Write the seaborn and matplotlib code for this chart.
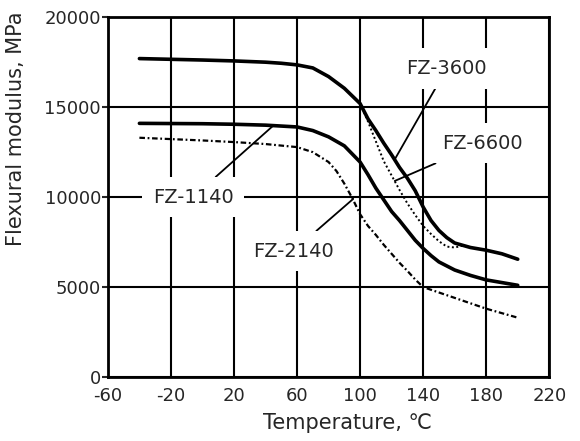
import pandas as pd
import seaborn as sns
import matplotlib.pyplot as plt

# values
temp_3600 = [-40, 0, 20, 40, 50, 60, 70, 80, 90, 100, 105, 110, 115, 120, 125, 130,
             135, 140, 145, 150, 155, 160, 170, 180, 190, 200]
mod_3600 = [17700, 17620, 17570, 17500, 17440, 17350, 17180, 16700, 16050, 15200, 14350,
            13700, 13000, 12350, 11650, 11050, 10350, 9450, 8700, 8150, 7750, 7450, 7200,
            7050, 6850, 6550]

temp_6600 = [60, 70, 80, 90, 100, 105, 110, 115, 120, 125, 130, 135, 140, 145, 150, 155, 160, 165]
mod_6600 = [17350, 17180, 16700, 16050, 15200, 14200, 13100, 12000, 11200, 10400, 9650,
            9000, 8400, 7950, 7550, 7250, 7200, 7300]

temp_1140 = [-40, 0, 20, 40, 60, 70, 80, 90, 100, 105, 110, 115, 120, 125, 130, 135,
             140, 145, 150, 160, 170, 180, 190, 200]
mod_1140 = [14100, 14080, 14050, 14000, 13900, 13700, 13350, 12850, 11950, 11250, 10500,
            9850, 9200, 8700, 8150, 7600, 7150, 6750, 6400, 5950, 5650, 5400, 5250, 5100]

temp_2140 = [-40, 0, 20, 40, 60, 70, 80, 85, 90, 95, 100, 105, 110, 115, 120, 125, 130,
             135, 140, 150, 160, 170, 180, 190, 200]
mod_2140 = [13300, 13150, 13060, 12950, 12780, 12500, 11950, 11450, 10750, 9950, 9050,
            8400, 7900, 7350, 6850, 6350, 5900, 5420, 5000, 4700, 4400, 4100, 3800, 3550, 3300]

x_ticks = [-60, -20, 20, 60, 100, 140, 180, 220]
y_ticks = [0, 5000, 10000, 15000, 20000]

sns.set_style("white")
plt.rcParams['font.family'] = ['DejaVu Sans']
plt.rcParams['axes.unicode_minus'] = False

fig = plt.figure(figsize=(5.8, 4.41), dpi=100)
ax = fig.add_axes([0.186, 0.145, 0.761, 0.816])

sns.lineplot(x=temp_6600, y=mod_6600, ax=ax, color="black", lw=1.4,
             sort=False, estimator=None, linestyle=(0, (1, 1.3)))
sns.lineplot(x=temp_2140, y=mod_2140, ax=ax, color="black", lw=1.6,
             sort=False, estimator=None, linestyle=(0, (2.5, 1.2, 0.8, 1.2)))
sns.lineplot(x=temp_3600, y=mod_3600, ax=ax, color="black", lw=2.6,
             sort=False, estimator=None)
sns.lineplot(x=temp_1140, y=mod_1140, ax=ax, color="black", lw=2.6,
             sort=False, estimator=None)

ax.set_xlim(-60, 220)
ax.set_ylim(0, 20000)
ax.set_xticks(x_ticks)
ax.set_yticks(y_ticks)
ax.set_axisbelow(True)
ax.grid(True, color="black", lw=1.5)
for s in ax.spines.values():
    s.set_color("black")
    s.set_linewidth(2)
ax.tick_params(axis="y", length=4, width=1.5, direction="out", pad=1, labelsize=13, left=True)
ax.tick_params(axis="x", length=0, pad=7, labelsize=13)

ax.set_xlabel("Temperature, ℃", fontsize=15)
ax.set_ylabel("Flexural modulus, MPa", fontsize=15)
ax.xaxis.set_label_coords(0.542, -0.1)
ax.yaxis.set_label_coords(-0.186, 0.69)

box = dict(boxstyle="square,pad=0.55", fc="white", ec="none")
line = dict(arrowstyle="-", color="black", lw=1.3, shrinkA=0, shrinkB=0)
labels = [
    ("FZ-3600", (155, 17150), (122, 12100)),
    ("FZ-6600", (177.5, 13000), (122, 10900)),
    ("FZ-1140", (-6, 10000), (45, 13980)),
    ("FZ-2140", (57.5, 7000), (95.6, 9900)),
]
for name, txt_xy, pt_xy in labels:
    ax.annotate(name, xy=pt_xy, xytext=txt_xy, ha="center", va="center",
                fontsize=14, bbox=box, arrowprops=line, zorder=3)

plt.savefig("out.png", dpi=100)
